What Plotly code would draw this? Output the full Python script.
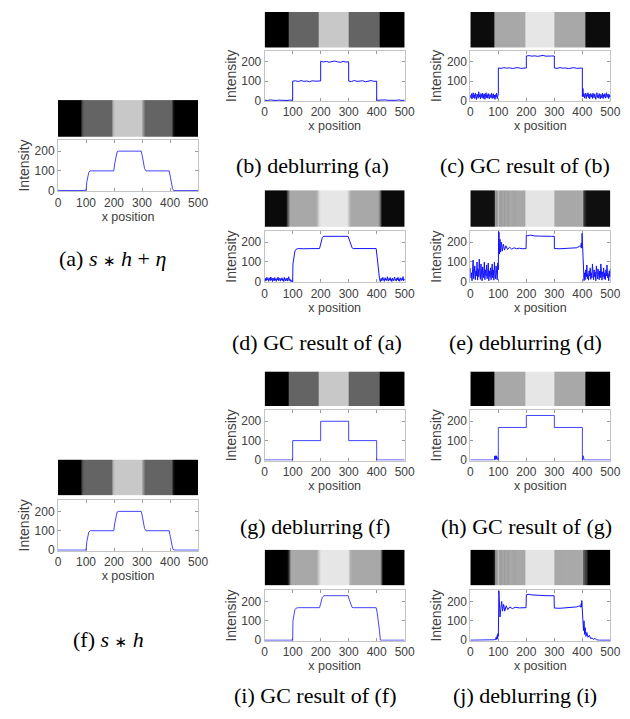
import plotly.graph_objects as go

W, H = 630, 719

# ------------------------------------------------------------------ data
X_TICKS = [0, 100, 200, 300, 400, 500]
Y_TICKS = [0, 100, 200]

# (a) s*h + eta  (blurred, slightly noisy)
A_X = [0, 25, 50, 75, 98, 100, 103, 106, 110, 115, 140, 170, 198,
       199, 203, 207, 211, 216, 250, 296, 297, 301, 305, 309, 314,
       350, 396, 397, 401, 405, 409, 413, 450, 500]
A_Y = [1, 0, 2, 0, 1, 0, 45, 75, 93, 100, 101, 99, 100,
       100, 140, 180, 197, 200, 201, 200, 200, 175, 140, 112, 100,
       101, 100, 100, 70, 35, 10, 0, 1, 0]

# (f) s*h (blurred, clean)
F_X = [0, 25, 50, 75, 98, 100, 103, 106, 110, 115, 140, 170, 198,
       199, 203, 207, 211, 216, 250, 296, 297, 301, 305, 309, 314,
       350, 396, 397, 401, 405, 409, 413, 450, 500]
F_Y = [0, 0, 0, 0, 0, 0, 45, 75, 93, 100, 100, 100, 100,
       100, 140, 180, 197, 200, 200, 200, 200, 175, 140, 112, 100,
       100, 100, 100, 70, 35, 10, 0, 0, 0]

# (b) deblurring (a)
B_X = [0, 10, 20, 30, 40, 50, 60, 70, 80, 90, 100,
       100, 110, 120, 130, 140, 150, 160, 170, 180, 190, 200,
       200, 210, 220, 230, 240, 250, 260, 270, 280, 290, 300,
       300, 310, 320, 330, 340, 350, 360, 370, 380, 390, 400,
       400, 410, 420, 430, 440, 450, 460, 470, 480, 490, 500]
B_Y = [2, 0, 3, 1, 0, 2, 1, 3, 0, 2, 1,
       100, 102, 98, 103, 99, 101, 97, 102, 100, 99, 101,
       203, 199, 202, 198, 201, 204, 200, 197, 202, 199, 200,
       100, 98, 103, 99, 101, 102, 97, 100, 103, 99, 100,
       1, 2, 0, 3, 1, 0, 2, 1, 3, 0, 2]

# (c) GC result of (b)
C_NOISE_L = [28, 12, 35, 8, 22, 40, 15, 30, 10, 38, 20, 5, 33, 25, 12, 45, 18,
             30, 8, 36, 22, 14, 38, 10, 28, 34, 6, 25, 40, 15, 30, 12, 36, 20,
             8, 32, 26, 14, 38, 10, 24, 35, 12, 28, 6, 30, 18, 38, 10, 32]
C_MID_X = [100, 100, 110, 120, 130, 140, 150, 160, 170, 180, 190, 200,
           200, 210, 220, 230, 240, 250, 260, 270, 280, 290, 300,
           300, 310, 320, 330, 340, 350, 360, 370, 380, 390, 400, 400]
C_MID_Y = [35, 168, 166, 170, 167, 169, 165, 168, 170, 166, 168, 168,
           230, 232, 229, 231, 228, 230, 233, 229, 231, 230, 230,
           168, 166, 170, 167, 168, 165, 169, 170, 166, 168, 168, 20]
C_NOISE_R = [62, 20, 35, 12, 28, 38, 10, 30, 22, 40, 15, 33, 8, 26, 36, 18, 30,
             10, 38, 24, 14, 34, 20, 6, 30, 40, 16, 28, 12, 36, 22, 8, 32, 26,
             14, 38, 10, 30, 20, 35, 12, 28, 40, 16, 24, 34, 10, 30, 18, 26]

# (d) GC result of (a)
D_NOISE_L = [12, 3, 18, 6, 22, 9, 15, 2, 20, 11, 5, 24, 8, 16, 1, 19, 10, 4,
             21, 7, 14, 2, 17, 9, 23, 5, 12, 18, 3, 15, 8, 20, 6, 13, 1, 22,
             10, 4, 16, 7, 19, 3, 11, 25, 6, 14, 2, 9]
D_MID_X = [97, 100, 101, 104, 108, 113, 120, 140, 160, 180,
           196, 200, 206, 212, 230, 250, 270, 298, 305, 312,
           316, 340, 360, 380, 398, 402, 406, 410, 413]
D_MID_Y = [0, 0, 90, 130, 155, 165, 168, 167, 169, 168,
           168, 190, 225, 230, 231, 229, 230, 230, 200, 172,
           168, 169, 167, 168, 168, 120, 60, 15, 0]
D_NOISE_R = [18, 4, 12, 22, 7, 15, 2, 20, 9, 14, 5, 25, 11, 3, 17, 8, 21, 6,
             13, 1, 19, 10, 4, 16, 24, 7, 12, 3, 18, 9, 22, 5, 14, 2, 20, 11,
             6, 17, 8, 26, 4, 13, 9]

# (e) deblurring (d)
E_NOISE_L = [70, 20, 45, 5, 60, 110, 15, 40, 80, 10, 55, 30, 100, 8, 65, 25,
             115, 40, 12, 90, 35, 5, 75, 50, 20, 100, 10, 60, 30, 85, 15, 45,
             95, 5, 55, 25, 70, 10, 40, 90, 20, 60, 8, 100, 35, 15, 80, 45, 10, 95]
E_MID_X = [100, 101, 103, 104, 106, 108, 111, 114, 118, 122,
           127, 133, 140, 148, 156, 165, 175, 185, 199, 200,
           205, 215, 230, 250, 270, 290, 300, 300, 320, 340,
           360, 380, 390, 394, 396, 398, 399, 401, 403]
E_MID_Y = [60, 255, 250, 140, 215, 150, 200, 155, 190, 160,
           182, 163, 175, 165, 172, 167, 170, 167, 168, 237,
           233, 236, 232, 231, 229, 230, 230, 168, 167, 169,
           168, 172, 180, 175, 195, 170, 245, 150, 30]
E_NOISE_R = [20, 5, 45, 10, 60, 25, 85, 15, 40, 8, 55, 30, 70, 12, 45, 20, 90,
             35, 10, 60, 25, 50, 5, 80, 30, 15, 65, 40, 10, 55, 20, 90, 35, 8,
             50, 25, 70, 15, 45, 10, 60, 30, 85, 20, 40, 5, 55, 25, 65]

# (g) deblurring (f)
G_X = [0, 100, 100, 200, 200, 300, 300, 400, 400, 500]
G_Y = [0, 0, 100, 100, 200, 200, 100, 100, 0, 0]

# (h) GC result of (g)
H_X = [0, 86, 87, 88, 89, 90, 91, 92, 93, 94, 95, 96, 97, 100, 100, 200, 200,
       300, 300, 400, 400, 401, 402, 403, 404, 405, 406, 407, 500]
H_Y = [0, 0, 20, 2, 22, 4, 20, 3, 22, 5, 18, 2, 0, 0, 168, 168, 230,
       230, 168, 168, 0, 20, 3, 22, 4, 18, 2, 0, 0]

# (i) GC result of (f)
I_X = [0, 99, 100, 101, 104, 108, 113, 120, 196, 200, 206, 212,
       298, 302, 307, 312, 316, 398, 402, 406, 410, 413, 500]
I_Y = [0, 0, 0, 100, 140, 158, 166, 168, 168, 190, 222, 230,
       230, 210, 185, 170, 168, 168, 140, 100, 50, 0, 0]

# (j) deblurring (i)
J_X = [0, 80, 85, 88, 90, 92, 94, 96, 97, 99,
       100, 102, 104, 106, 109, 112, 115, 119, 123, 128,
       134, 141, 150, 160, 175, 199, 200, 210, 220, 240,
       270, 299, 300, 320, 350, 380, 390, 394, 396, 397,
       398, 399, 400, 402, 404, 406, 408, 410, 413, 416,
       420, 425, 430, 435, 440, 445, 450, 460, 500]
J_Y = [0, 0, 2, 5, 3, 15, 4, 25, 8, 35,
       20, 255, 180, 120, 165, 200, 150, 185, 150, 178,
       158, 172, 163, 170, 167, 168, 235, 237, 234, 232,
       230, 230, 166, 165, 168, 172, 178, 170, 190, 172,
       205, 165, 150, 120, 50, 100, 30, 65, 20, 40,
       15, 25, 8, 12, 3, 10, 2, 0, 0]

# grayscale strips (column intensity vs. horizontal strip position 0..500)
STRIP_A_X = [0, 78, 82, 86, 92, 190, 194, 198, 205, 296, 301, 306, 312, 402, 406, 410, 416, 500]
STRIP_A_V = [0, 0, 40, 80, 100, 100, 150, 185, 200, 200, 165, 120, 100, 100, 60, 20, 0, 0]
STRIP_B_X = [0, 85, 86, 193, 194, 300, 301, 408, 409, 500]
STRIP_B_V = [0, 0, 100, 100, 200, 200, 100, 100, 0, 0]
STRIP_C_X = [0, 86, 87, 195, 196, 300, 301, 408, 409, 500]
STRIP_C_V = [12, 12, 168, 168, 230, 230, 168, 168, 12, 12]
STRIP_D_X = [0, 76, 80, 84, 90, 183, 188, 193, 199, 293, 298, 303, 308, 405, 409, 413, 418, 500]
STRIP_D_V = [10, 10, 60, 130, 168, 168, 195, 220, 230, 230, 210, 180, 168, 168, 120, 50, 10, 10]
STRIP_E_X = [0, 85, 86, 89, 90, 92, 93, 96, 97, 100, 102, 106, 110, 115, 120, 126, 133,
             142, 152, 165, 194, 196, 299, 300, 380, 400, 404, 405, 408, 409, 411, 412, 415, 500]
STRIP_E_V = [15, 15, 60, 60, 210, 210, 110, 110, 190, 190, 140, 175, 150, 172, 155, 170, 160,
             170, 163, 168, 168, 228, 228, 168, 168, 170, 170, 50, 50, 110, 110, 30, 15, 15]
STRIP_H_X = [0, 86, 87, 195, 196, 300, 301, 408, 409, 500]
STRIP_H_V = [0, 0, 168, 168, 230, 230, 168, 168, 0, 0]
STRIP_I_X = [0, 80, 84, 88, 94, 184, 189, 195, 201, 296, 300, 304, 309, 411, 414, 417, 420, 500]
STRIP_I_V = [0, 0, 60, 130, 168, 168, 195, 220, 230, 230, 210, 180, 168, 168, 120, 50, 0, 0]
STRIP_J_X = [0, 80, 84, 87, 89, 90, 92, 93, 96, 97, 100, 102, 106, 110, 115, 120, 126, 133,
             142, 152, 165, 194, 196, 299, 300, 400, 404, 405, 407, 408, 410, 411, 413, 414, 417, 500]
STRIP_J_V = [0, 0, 40, 40, 70, 200, 200, 120, 120, 190, 190, 140, 175, 150, 172, 155, 170, 160,
             170, 163, 168, 168, 228, 228, 168, 170, 170, 60, 60, 100, 100, 40, 40, 70, 0, 0]

STAR = '<span style="font-family:DejaVu Sans;font-size:15px">∗</span>'
CAPTIONS = {
    "a": f"(a) <i>s</i> {STAR} <i>h</i> + <i>η</i>",
    "b": "(b) deblurring (a)",
    "c": "(c) GC result of (b)",
    "d": "(d) GC result of (a)",
    "e": "(e) deblurring (d)",
    "f": f"(f) <i>s</i> {STAR} <i>h</i>",
    "g": "(g) deblurring (f)",
    "h": "(h) GC result of (g)",
    "i": "(i) GC result of (f)",
    "j": "(j) deblurring (i)",
}


def seg(start, vals):
    return list(range(start, start + 2 * len(vals), 2)), list(vals)


def join(*parts):
    xs, ys = [], []
    for px, py in parts:
        xs += list(px)
        ys += list(py)
    return xs, ys


C_X, C_Y = join(seg(0, C_NOISE_L), (C_MID_X, C_MID_Y), seg(402, C_NOISE_R))
D_X, D_Y = join(seg(0, D_NOISE_L), (D_MID_X, D_MID_Y), seg(416, D_NOISE_R))
E_X, E_Y = join(seg(0, E_NOISE_L), (E_MID_X, E_MID_Y), seg(404, E_NOISE_R))

PROFILES = {
    "a": (A_X, A_Y), "b": (B_X, B_Y), "c": (C_X, C_Y), "d": (D_X, D_Y),
    "e": (E_X, E_Y), "f": (F_X, F_Y), "g": (G_X, G_Y), "h": (H_X, H_Y),
    "i": (I_X, I_Y), "j": (J_X, J_Y),
}
STRIPS = {
    "a": (STRIP_A_X, STRIP_A_V), "b": (STRIP_B_X, STRIP_B_V),
    "c": (STRIP_C_X, STRIP_C_V), "d": (STRIP_D_X, STRIP_D_V),
    "e": (STRIP_E_X, STRIP_E_V), "f": (STRIP_A_X, STRIP_A_V),
    "g": (STRIP_B_X, STRIP_B_V), "h": (STRIP_H_X, STRIP_H_V),
    "i": (STRIP_I_X, STRIP_I_V), "j": (STRIP_J_X, STRIP_J_V),
}

# ------------------------------------------------------------------ layout (pixels)
COLS = {0: (48, 191), 1: (259, 402), 2: (469, 612)}
PANELS = {
    # key: (col, strip_top, strip_bot, plot_top, plot_bot, cap_x, cap_y)
    "a": (0, 93, 130, 133, 185, 104, 253),
    "b": (1, 4, 40, 43, 94, 308, 159),
    "c": (2, 4, 40, 43, 94, 525, 159),
    "d": (1, 184, 221, 225, 277, 312, 338),
    "e": (2, 184, 221, 225, 277, 525, 338),
    "f": (0, 456, 492, 497, 548, 100, 638),
    "g": (1, 367, 402, 406, 457, 310, 524),
    "h": (2, 367, 402, 406, 457, 526, 524),
    "i": (1, 547, 583, 588, 639, 311, 694),
    "j": (2, 547, 583, 588, 639, 525, 694),
}

SANS = "Liberation Sans, Arial, sans-serif"
SERIF = "Liberation Serif, Times New Roman, serif"
AX_LINE = "#c4c4c4"
TXT = "#404040"
LINE_W = {"a": 0.8, "f": 0.8, "g": 0.8, "i": 0.8, "h": 0.8}

fig = go.Figure()
layout = dict(
    width=W, height=H, autosize=False,
    margin=dict(l=0, r=0, t=0, b=0),
    paper_bgcolor="white", plot_bgcolor="white",
    showlegend=False, annotations=[],
)

def ydom(top, bot):
    return [1 - bot / H, 1 - top / H]

for i, key in enumerate("abcdefghij"):
    col, st, sb, pt, pb, cx, cy = PANELS[key]
    l, r = COLS[col]
    pi, si = 2 * i + 1, 2 * i + 2
    pxn = "x" if pi == 1 else f"x{pi}"
    pyn = "y" if pi == 1 else f"y{pi}"
    sxn, syn = f"x{si}", f"y{si}"

    # strip image
    sx, sv = STRIPS[key]
    fig.add_trace(go.Heatmap(
        x=sx, y=[0, 1], z=[sv, sv], zmin=0, zmax=255, zsmooth="best",
        colorscale=[[0, "black"], [1, "white"]], showscale=False,
        hoverinfo="skip", xaxis=sxn, yaxis=syn))
    layout[f"xaxis{si}"] = dict(domain=[l / W, r / W], range=[0, 500], visible=False,
                                anchor=syn, fixedrange=True)
    layout[f"yaxis{si}"] = dict(domain=ydom(st, sb), range=[0, 1], visible=False,
                                anchor=sxn, fixedrange=True)

    # profile
    px_, py_ = PROFILES[key]
    fig.add_trace(go.Scatter(
        x=px_, y=py_, mode="lines",
        line=dict(color="rgb(20,20,255)", width=LINE_W.get(key, 1)),
        hoverinfo="skip", xaxis=pxn, yaxis=pyn))
    xa = "xaxis" if pi == 1 else f"xaxis{pi}"
    ya = "yaxis" if pi == 1 else f"yaxis{pi}"
    layout[xa] = dict(
        domain=[l / W, r / W], range=[0, 500], anchor=pyn,
        tickmode="array", tickvals=X_TICKS, ticktext=[str(v) for v in X_TICKS],
        ticks="inside", ticklen=3, tickcolor="#9a9a9a",
        showline=True, linecolor=AX_LINE, linewidth=1, mirror="ticks",
        showgrid=False, zeroline=False, layer="below traces",
        tickfont=dict(family=SANS, size=12, color=TXT),
        title=dict(text="x position", font=dict(family=SANS, size=12.5, color=TXT), standoff=1),
    )
    layout[ya] = dict(
        domain=ydom(pt, pb), range=[-3, 258], anchor=pxn,
        tickmode="array", tickvals=Y_TICKS, ticktext=[str(v) for v in Y_TICKS],
        ticks="inside", ticklen=3, tickcolor="#9a9a9a",
        showline=True, linecolor=AX_LINE, linewidth=1, mirror="ticks",
        showgrid=False, zeroline=False, layer="below traces",
        tickfont=dict(family=SANS, size=12, color=TXT),
        title=dict(text="Intensity", font=dict(family=SANS, size=14, color=TXT), standoff=1),
    )

    layout["annotations"].append(dict(
        text=CAPTIONS[key], x=cx / W, y=1 - cy / H, xref="paper", yref="paper",
        xanchor="center", yanchor="middle", showarrow=False,
        font=dict(family=SERIF, size=22, color="black")))

fig.update_layout(**layout)
fig.write_html("out.html")
